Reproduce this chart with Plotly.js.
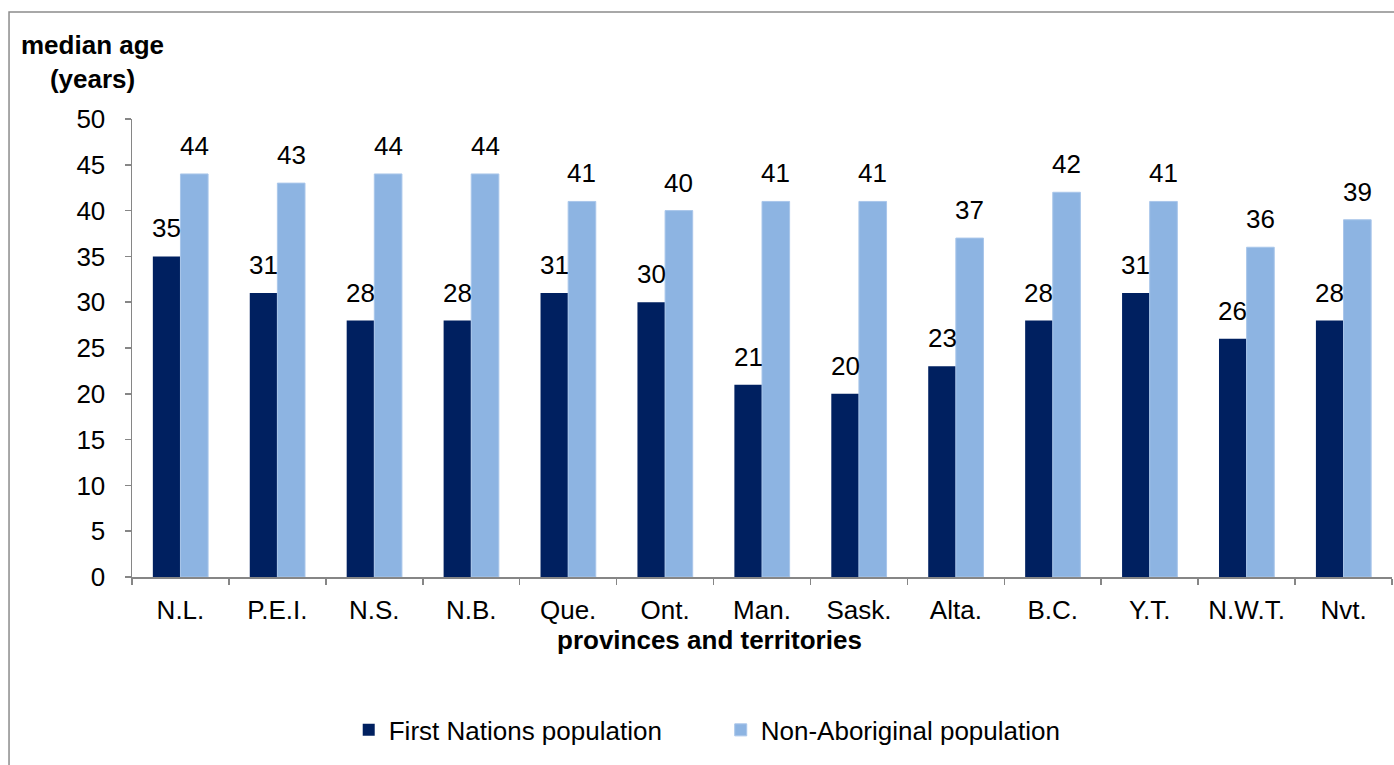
<!DOCTYPE html>
<html>
<head>
<meta charset="utf-8">
<script src="https://cdn.plot.ly/plotly-3.0.1.min.js"></script>
<style>
html,body{margin:0;padding:0;background:#fff;}
#chart{width:1394px;height:765px;}
</style>
</head>
<body>
<div id="chart"></div>
<script>
const categories = ["N.L.","P.E.I.","N.S.","N.B.","Que.","Ont.","Man.","Sask.","Alta.","B.C.","Y.T.","N.W.T.","Nvt."];
const firstNations = [35,31,28,28,31,30,21,20,23,28,31,26,28];
const nonAboriginal = [44,43,44,44,41,40,41,41,37,42,41,36,39];
const yTicks = [0,5,10,15,20,25,30,35,40,45,50];

const FONT = "Liberation Sans, Arial, sans-serif";
const FS = 26;
const darkColor = "#002060";
const lightColor = "#8DB4E2";
const axisColor = "#868686";

const traces = [
  {type:"bar", name:"First Nations population", x:categories, y:firstNations,
   marker:{color:darkColor}, hoverinfo:"x+y"},
  {type:"bar", name:"Non-Aboriginal population", x:categories, y:nonAboriginal,
   marker:{color:lightColor, line:{color:"#A9C6EA", width:1}}, hoverinfo:"x+y"}
];

const annotations = [];
categories.forEach((c,i)=>{
  annotations.push({x:c, y:firstNations[i], xref:"x", yref:"y", text:String(firstNations[i]),
    showarrow:false, yanchor:"bottom", xanchor:"center", xshift:-13.8, yshift:11,
    font:{family:FONT, size:FS, color:"#000"}});
  annotations.push({x:c, y:nonAboriginal[i], xref:"x", yref:"y", text:String(nonAboriginal[i]),
    showarrow:false, yanchor:"bottom", xanchor:"center", xshift:13.8, yshift:11,
    font:{family:FONT, size:FS, color:"#000"}});
});
annotations.push({xref:"paper", yref:"paper", x:-0.0317, y:1.124, text:"<b>median age</b><br><b>(years)</b>",
  showarrow:false, xanchor:"center", yanchor:"middle", align:"center",
  font:{family:FONT, size:FS, color:"#000"}});
annotations.push({xref:"paper", yref:"paper", x:0.4587, y:-0.1376, text:"<b>provinces and territories</b>",
  showarrow:false, xanchor:"center", yanchor:"middle",
  font:{family:FONT, size:FS, color:"#000"}});

const layout = {
  width:1394, height:765,
  margin:{l:132, r:2, t:119, b:188},
  paper_bgcolor:"#fff", plot_bgcolor:"#fff",
  font:{family:FONT, size:FS, color:"#000"},
  barmode:"group", bargap:0.43, bargroupgap:0,
  showlegend:true,
  legend:{orientation:"h", x:0.172, xanchor:"left", y:-0.334, yanchor:"middle",
    font:{family:FONT, size:FS, color:"#000"}, entrywidth:327, entrywidthmode:"pixels",
    bgcolor:"rgba(0,0,0,0)"},
  xaxis:{type:"category", showline:true, linecolor:axisColor, linewidth:1.5,
    ticks:"outside", tickson:"boundaries", ticklen:6, tickcolor:axisColor, tickwidth:1.5,
    showgrid:false, zeroline:false, ticklabelstandoff:9,
    tickfont:{family:FONT, size:FS, color:"#000"}, fixedrange:true},
  yaxis:{range:[0,50], tickvals:yTicks, ticktext:yTicks.map(String), showline:true,
    linecolor:axisColor, linewidth:1.5, ticks:"outside", ticklen:6, tickcolor:axisColor, tickwidth:1.5,
    showgrid:false, zeroline:false, ticklabelstandoff:14,
    tickfont:{family:FONT, size:FS, color:"#000"}, fixedrange:true},
  annotations:annotations,
  shapes:[{type:"rect", xref:"paper", yref:"paper", x0:-0.0976, x1:1.2, y0:-0.6, y1:1.2336,
    line:{color:"#8C8C8C", width:1.5}, fillcolor:"rgba(0,0,0,0)", layer:"below"}]
};

Plotly.newPlot("chart", traces, layout, {displayModeBar:false, staticPlot:true});
</script>
</body>
</html>
